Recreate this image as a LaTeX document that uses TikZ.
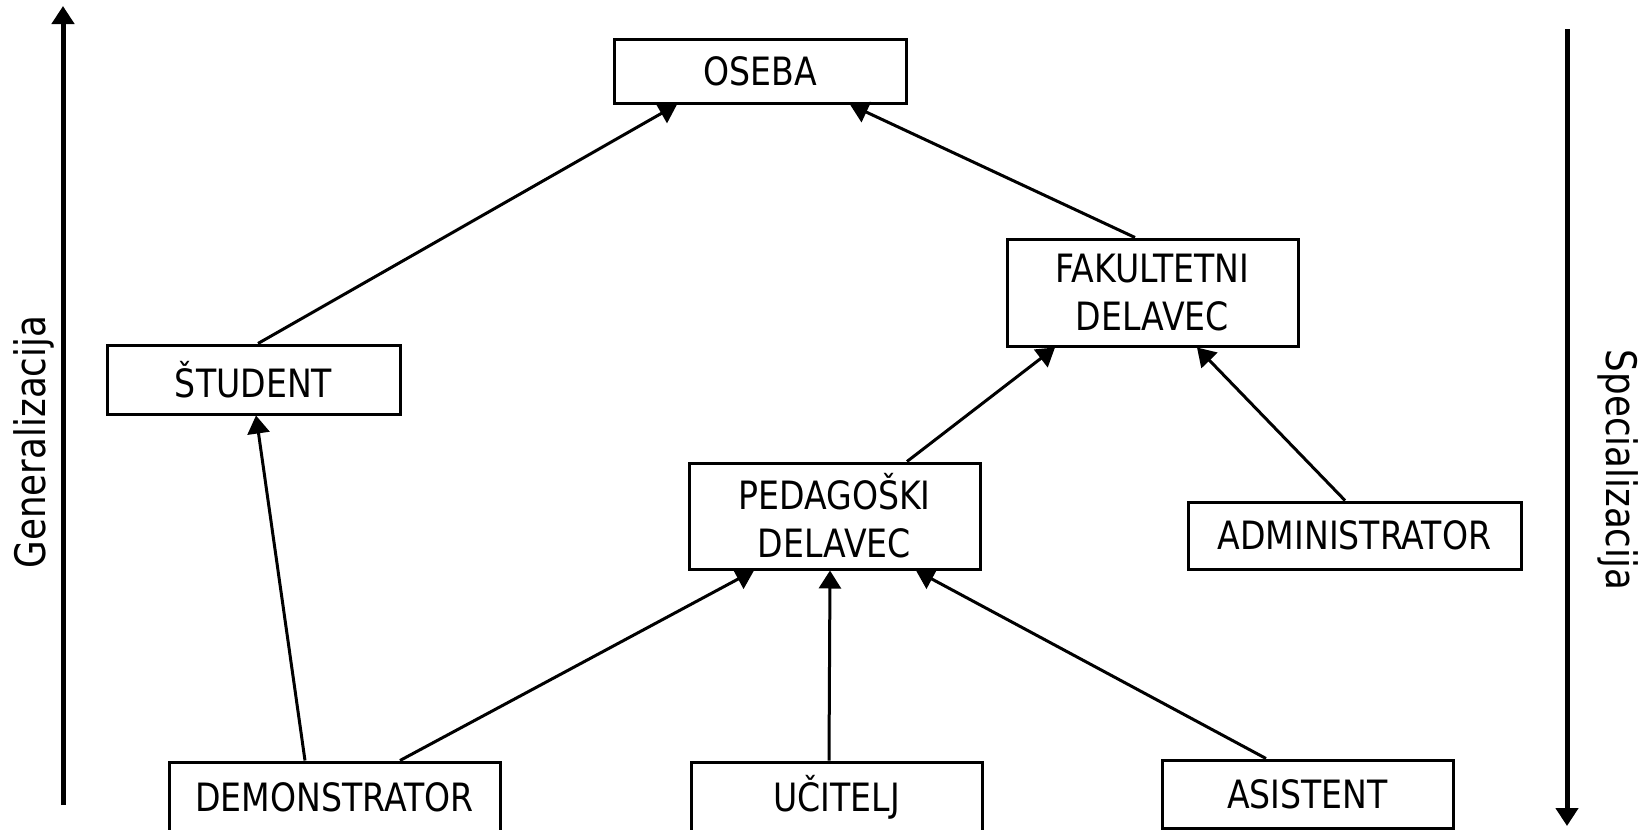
\documentclass[tikz,border=0pt]{standalone}
\usepackage{fontspec}
\setmainfont{DejaVu Sans}[FakeStretch=0.85]
\usetikzlibrary{arrows.meta}
\begin{document}
\begin{tikzpicture}[x=0.5pt,y=-0.5pt,
  box/.style={draw=black,line width=1.5pt,fill=white,inner sep=0pt,
    align=center,font=\fontsize{19.5}{24}\selectfont},
  conn/.style={line width=1.5pt,-{Triangle[length=9pt,width=11pt]}},
  axis/.style={line width=2.5pt,-{Triangle[length=9pt,width=11pt]}},
  lbl/.style={font=\fontsize{21}{24}\selectfont,inner sep=0pt}]
\useasboundingbox (0,0) rectangle (1650,830);
\node[box,minimum width=146pt,minimum height=32pt] (osb) at (760,71) {OSEBA};
\node[box,minimum width=146.5pt,minimum height=34.5pt] (stud) at (253.5,379.5) {ŠTUDENT};
\node[box,minimum width=145.5pt,minimum height=53.5pt] (fak) at (1152.5,292.5) {FAKULTETNI\\DELAVEC};
\node[box,minimum width=145.5pt,minimum height=53pt] (ped) at (834.5,516) {PEDAGOŠKI\\DELAVEC};
\node[box,minimum width=166.5pt,minimum height=33.5pt] (adm) at (1354.5,535.5) {ADMINISTRATOR};
\node[box,minimum width=165.5pt,minimum height=35pt] (demo) at (334.5,797) {DEMONSTRATOR};
\node[box,minimum width=145.5pt,minimum height=35pt] (uc) at (836.5,797) {UČITELJ};
\node[box,minimum width=145.5pt,minimum height=34pt] (as) at (1307.5,794) {ASISTENT};
\draw[conn] ([xshift=2.25pt]stud.north) -- ([xshift=-41.5pt]osb.south);
\draw[conn] ([xshift=-8.75pt]fak.north) -- ([xshift=45pt]osb.south);
\draw[conn] ([xshift=36.25pt]ped.north) -- ([xshift=-48.75pt]fak.south);
\draw[conn] ([xshift=-4.75pt]adm.north) -- ([xshift=22.25pt]fak.south);
\draw[conn] ([xshift=-14.75pt]demo.north) -- ([xshift=1.25pt]stud.south);
\draw[conn] ([xshift=32.75pt]demo.north) -- ([xshift=-40.25pt]ped.south);
\draw[conn] ([xshift=-3.75pt]uc.north) -- ([xshift=-2.25pt]ped.south);
\draw[conn] ([xshift=-20.75pt]as.north) -- ([xshift=40.75pt]ped.south);
\coordinate (g0) at (63,805);
\coordinate (g1) at (63,6);
\coordinate (s0) at (1567,29);
\coordinate (s1) at (1567,826);
\draw[axis] (g0) -- (g1);
\draw[axis] (s0) -- (s1);
\node[lbl,rotate=90] (gen) at (34,442) {Generalizacija};
\node[lbl,rotate=-90] (spec) at (1618,470) {Specializacija};
\end{tikzpicture}
\end{document}
